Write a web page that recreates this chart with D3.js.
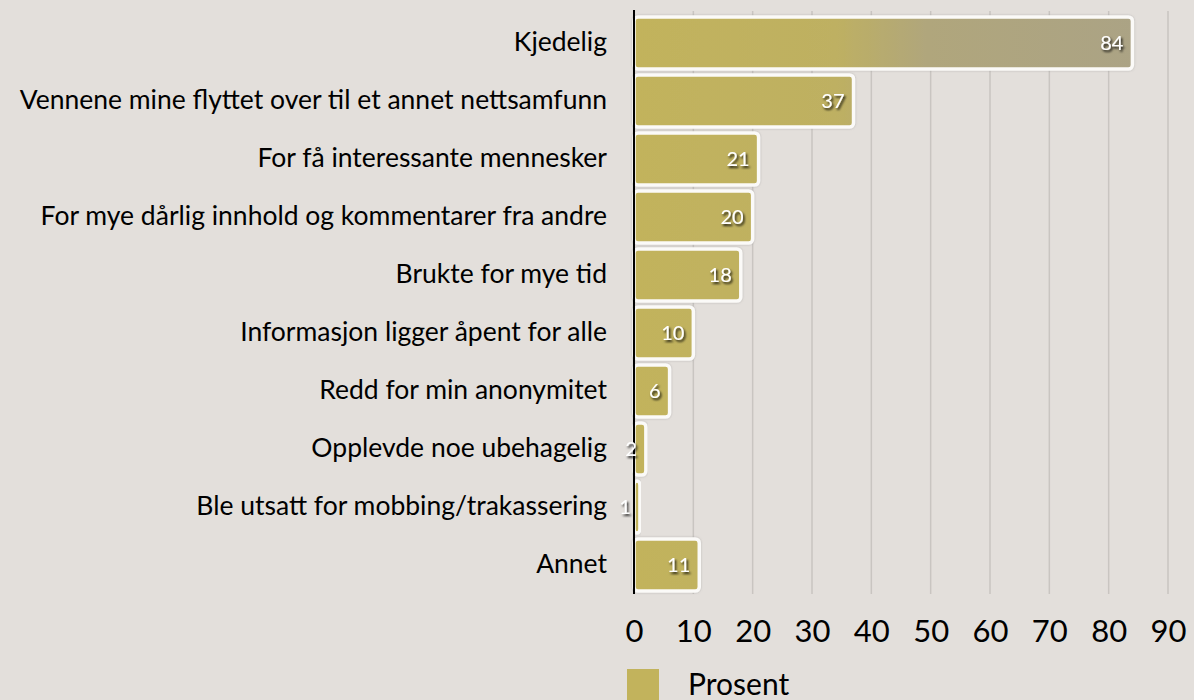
<!DOCTYPE html>
<html>
<head>
<meta charset="utf-8" />
<title>Prosent</title>
<style>
  body { margin: 0; background: #e3dfdb; }
  svg { display: block; }
</style>
</head>
<body>
<svg id="svg"></svg>
<script src="https://cdn.jsdelivr.net/npm/d3@7"></script>
<script>
var categories = [
  "Kjedelig",
  "Vennene mine flyttet over til et annet nettsamfunn",
  "For få interessante mennesker",
  "For mye dårlig innhold og kommentarer fra andre",
  "Brukte for mye tid",
  "Informasjon ligger åpent for alle",
  "Redd for min anonymitet",
  "Opplevde noe ubehagelig",
  "Ble utsatt for mobbing/trakassering",
  "Annet"
];
var values = [84, 37, 21, 20, 18, 10, 6, 2, 1, 11];
var ticks = [0, 10, 20, 30, 40, 50, 60, 70, 80, 90];
var seriesName = "Prosent";

var width = 1194, height = 700;
var font = "'Lato', 'Open Sans', sans-serif";

var svg = d3.select("#svg").attr("width", width).attr("height", height);
svg.append("rect").attr("width", width).attr("height", height).attr("fill", "#e3dfdb");

var x = d3.scaleLinear().domain([0, 90]).range([634, 1168]);
var y = d3.scaleBand().domain(categories).range([14, 594]).paddingInner(0.1).paddingOuter(0.05);

var defs = svg.append("defs");
var grad = defs.append("linearGradient").attr("id", "barfill")
  .attr("gradientUnits", "userSpaceOnUse")
  .attr("x1", 634).attr("x2", 1140).attr("y1", 0).attr("y2", 0);
grad.append("stop").attr("offset", "0%").attr("stop-color", "#c2b35c");
grad.append("stop").attr("offset", "40%").attr("stop-color", "#beb062");
grad.append("stop").attr("offset", "58%").attr("stop-color", "#b0a67c");
grad.append("stop").attr("offset", "100%").attr("stop-color", "#aba385");

var sh = defs.append("filter").attr("id", "txtshadow")
  .attr("x", "-50%").attr("y", "-50%").attr("width", "200%").attr("height", "200%");
sh.append("feDropShadow").attr("dx", 1.5).attr("dy", 2).attr("stdDeviation", 1.2)
  .attr("flood-color", "#000").attr("flood-opacity", 0.85);

var bsh = defs.append("filter").attr("id", "barshadow")
  .attr("x", "-10%").attr("y", "-20%").attr("width", "120%").attr("height", "140%");
bsh.append("feDropShadow").attr("dx", 0).attr("dy", 0).attr("stdDeviation", 1.2)
  .attr("flood-color", "#888").attr("flood-opacity", 0.5);

// gridlines
svg.append("g").selectAll("line").data(ticks.slice(1)).join("line")
  .attr("x1", d => x(d)).attr("x2", d => x(d))
  .attr("y1", 11).attr("y2", 594)
  .attr("stroke", "#c9c5c1").attr("stroke-width", 1.5);

// bars
svg.append("g").selectAll("rect").data(values).join("rect")
  .attr("x", x(0))
  .attr("y", (d, i) => y(categories[i]))
  .attr("width", d => x(d) - x(0))
  .attr("height", y.bandwidth())
  .attr("rx", 4)
  .attr("fill", "url(#barfill)")
  .attr("stroke", "#fbfaf8").attr("stroke-width", 3.5)
  .attr("filter", "url(#barshadow)");

// axis line
svg.append("line").attr("x1", x(0)).attr("x2", x(0)).attr("y1", 10).attr("y2", 594)
  .attr("stroke", "#000").attr("stroke-width", 2);

// value labels
svg.append("g").selectAll("text").data(values).join("text")
  .attr("x", d => x(d) - 9)
  .attr("y", (d, i) => y(categories[i]) + y.bandwidth() / 2)
  .attr("dy", "0.35em")
  .attr("text-anchor", "end")
  .attr("font-family", font).attr("font-size", 20)
  .attr("fill", "#fff").attr("filter", "url(#txtshadow)")
  .text(d => d);

// category labels
var yAxis = svg.append("g").attr("transform", "translate(" + x(0) + ",0)")
  .call(d3.axisLeft(y).tickSize(0).tickPadding(27));
yAxis.select(".domain").remove();
yAxis.selectAll("text").attr("font-family", font).attr("font-size", 26.5).attr("fill", "#000");

// x tick labels
var xAxis = svg.append("g").attr("transform", "translate(0,620)")
  .call(d3.axisBottom(x).tickValues(ticks).tickSize(0).tickPadding(0));
xAxis.select(".domain").remove();
xAxis.selectAll("text").attr("font-family", font).attr("font-size", 31).attr("fill", "#000");

// legend
var leg = svg.append("g").attr("transform", "translate(627,669)");
leg.append("rect").attr("width", 32).attr("height", 32).attr("fill", "url(#barfill)");
leg.append("text").attr("x", 61).attr("y", 26).attr("font-family", font).attr("font-size", 30)
  .attr("fill", "#000").text(seriesName);
</script>
</body>
</html>
